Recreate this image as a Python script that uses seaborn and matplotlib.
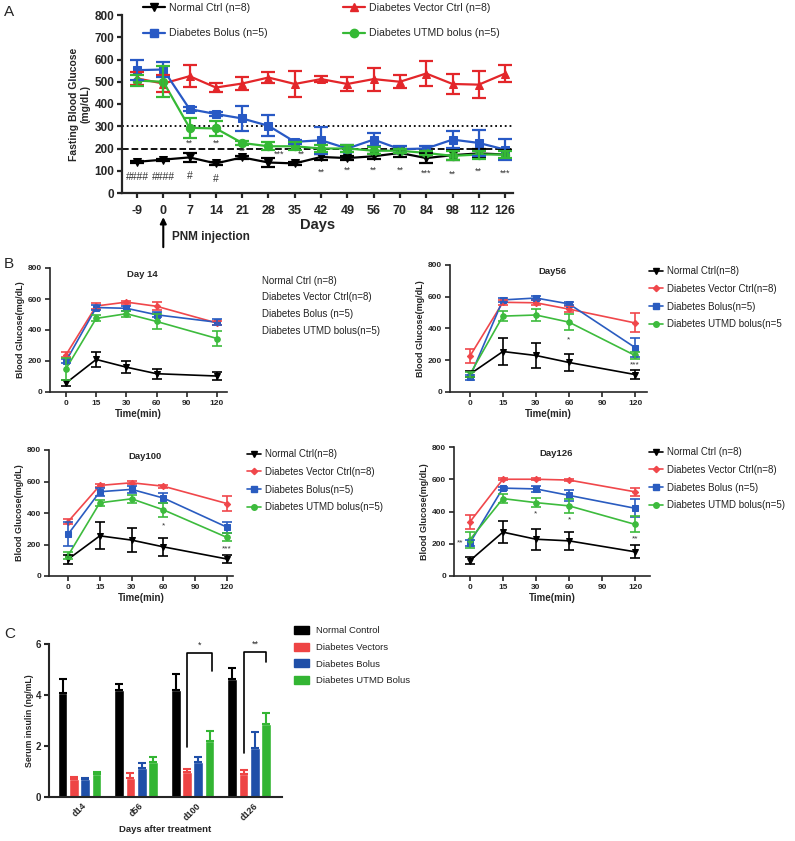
import numpy as np
import pandas as pd
import matplotlib
matplotlib.use("Agg")
import matplotlib.pyplot as plt
import seaborn as sns
from matplotlib.lines import Line2D
from matplotlib.patches import Patch

sns.set_style("ticks")
plt.rcParams['font.family'] = ['Liberation Sans', 'DejaVu Sans']

W, H = 795, 841

def rect(left, top, width, height):
    # pixel box (from top-left) -> figure fraction
    return [left / W, 1 - (top + height) / H, width / W, height / H]


# PANEL A DATA - fasting blood glucose #
days = ['-9', '0', '7', '14', '21', '28', '35', '42', '49', '56', '70', '84', '98', '112', '126']
a_normal = [140, 150, 160, 133, 160, 137, 133, 162, 157, 165, 180, 157, 170, 178, 173]
a_normal_err = [5, 5, 20, 8, 8, 20, 5, 12, 10, 10, 20, 22, 22, 20, 22]
a_vector = [515, 492, 525, 474, 492, 519, 490, 512, 490, 512, 500, 537, 490, 487, 537]
a_vector_err = [30, 40, 50, 20, 30, 25, 58, 15, 30, 52, 30, 55, 45, 60, 37]
a_bolus = [552, 555, 377, 355, 335, 302, 230, 237, 200, 240, 197, 200, 240, 225, 195]
a_bolus_err = [45, 35, 10, 10, 58, 48, 10, 60, 15, 30, 15, 10, 38, 60, 48]
a_utmd = [505, 500, 293, 290, 225, 210, 210, 200, 200, 190, 190, 180, 167, 173, 173]
a_utmd_err = [25, 70, 45, 33, 10, 18, 18, 15, 15, 15, 10, 10, 20, 18, 15]

# PANEL B DATA - glucose tolerance #
time_labels = ['0', '15', '30', '60', '90', '120']
time_sampled = ['0', '15', '30', '60', '120']

d14_normal = [58, 210, 160, 118, 103]
d14_normal_err = [20, 50, 40, 33, 25]
d14_vector = [240, 555, 580, 553, 445]
d14_vector_err = [15, 20, 10, 25, 15]
d14_bolus = [200, 545, 540, 498, 450]
d14_bolus_err = [10, 15, 15, 15, 20]
d14_utmd = [150, 475, 505, 455, 345]
d14_utmd_err = [70, 20, 20, 50, 50]

d56_normal = [112, 255, 230, 186, 110]
d56_normal_err = [20, 85, 77, 55, 28]
d56_vector = [225, 565, 562, 522, 435]
d56_vector_err = [45, 15, 15, 20, 60]
d56_bolus = [92, 580, 592, 555, 280]
d56_bolus_err = [15, 15, 10, 10, 60]
d56_utmd = [110, 478, 485, 440, 230]
d56_utmd_err = [15, 30, 35, 50, 20]

d100_normal = [106, 255, 228, 185, 108]
d100_normal_err = [30, 85, 75, 55, 25]
d100_vector = [345, 575, 592, 570, 460]
d100_vector_err = [15, 10, 10, 10, 50]
d100_bolus = [265, 535, 550, 495, 310]
d100_bolus_err = [75, 25, 20, 30, 35]
d100_utmd = [130, 465, 490, 420, 245]
d100_utmd_err = [20, 20, 25, 45, 25]

d126_normal = [95, 272, 228, 218, 150]
d126_normal_err = [22, 70, 65, 55, 40]
d126_vector = [335, 600, 600, 595, 522]
d126_vector_err = [45, 5, 5, 5, 25]
d126_bolus = [205, 545, 540, 500, 420]
d126_bolus_err = [20, 10, 20, 35, 55]
d126_utmd = [225, 480, 455, 435, 320]
d126_utmd_err = [50, 30, 30, 45, 50]

# PANEL C DATA - serum insulin #
insulin_days = ['d14', 'd56', 'd100', 'd126']
insulin_groups = ['Normal Control', 'Diabetes Vectors', 'Diabetes Bolus', 'Diabetes UTMD Bolus']
c_normal = [4.08, 4.18, 4.18, 4.62]
c_normal_err = [0.55, 0.27, 0.65, 0.42]
c_vector = [0.70, 0.75, 1.00, 0.90]
c_vector_err = [0.08, 0.20, 0.10, 0.15]
c_bolus = [0.70, 1.15, 1.38, 1.92]
c_bolus_err = [0.05, 0.20, 0.18, 0.62]
c_utmd = [0.92, 1.38, 2.20, 2.85]
c_utmd_err = [0.07, 0.18, 0.38, 0.43]


fig = plt.figure(figsize=(W / 100, H / 100), dpi=100)


def style_axes(ax, lw, size):
    sns.despine(ax=ax)
    for s in ['left', 'bottom']:
        ax.spines[s].set_linewidth(lw)
    ax.tick_params(direction='out', length=3.5, width=lw, labelsize=size, pad=2)
    for lab in ax.get_xticklabels() + ax.get_yticklabels():
        lab.set_fontweight('bold')


def draw_series(ax, x, y, err, color, marker, lw, ms, cap):
    sns.lineplot(x=x, y=y, ax=ax, color=color, marker=marker, markersize=ms,
                 markeredgecolor=color, linewidth=lw, errorbar=None)
    ax.errorbar(x, y, yerr=err, fmt='none', ecolor=color, elinewidth=lw,
                capsize=cap, capthick=lw, zorder=3)


# PANEL A #
red_a, blue_a, green_a = '#e3262a', '#2859c5', '#35b935'
axA = fig.add_axes(rect(122, 15, 391, 178))
xa = np.arange(len(days))
axA.axhline(300, ls=':', color='k', lw=1.3, zorder=1)
axA.axhline(200, ls='--', color='k', lw=1.3, zorder=1)
draw_series(axA, xa, a_normal, a_normal_err, 'black', 'v', 1.6, 6, 5)
draw_series(axA, xa, a_vector, a_vector_err, red_a, '^', 1.6, 6, 5)
draw_series(axA, xa, a_bolus, a_bolus_err, blue_a, 's', 1.6, 6, 5)
draw_series(axA, xa, a_utmd, a_utmd_err, green_a, 'o', 1.6, 6, 5)
axA.set_xlim(-0.57, 14.3)
axA.set_ylim(0, 800)
axA.set_yticks(range(0, 801, 100))
axA.set_xticks(xa)
axA.set_xticklabels(days)
style_axes(axA, 1.6, 8.5)
axA.tick_params(axis='x', labelsize=9, pad=5)
axA.set_ylabel('Fasting Blood Glucose\n(mg/dL)', fontsize=7.5, fontweight='bold', labelpad=3)
axA.set_xlabel('Days', fontsize=10.5, fontweight='bold', labelpad=1)

# significance marks on panel A
a_marks = [('**', 2, 222), ('**', 3, 222), ('**', 4, 186), ('***', 5.4, 176),
           ('**', 6.25, 176), ('**', 7, 92), ('**', 8, 102), ('**', 9, 102),
           ('**', 10, 102), ('***', 11, 88), ('**', 12, 86), ('**', 13, 96), ('***', 14, 88)]
for txt, xp, yp in a_marks:
    axA.text(xp, yp, txt, ha='center', va='center', fontsize=6.5, color='#333333')
hash_marks = [('####', 0, 70), ('####', 1, 70), ('#', 2, 78), ('#', 3, 62)]
for txt, xp, yp in hash_marks:
    axA.text(xp, yp, txt, ha='center', va='center', fontsize=7.5, color='#333333')

# PNM injection arrow
axA.annotate('', xy=(1, -0.12), xytext=(1, -0.32), xycoords=('data', 'axes fraction'),
             arrowprops=dict(arrowstyle='-|>', color='black', lw=1.5, mutation_scale=9),
             annotation_clip=False)
fig.text(172 / W, 1 - 237 / H, 'PNM injection', fontsize=8.5, fontweight='bold', va='center')

# legend for panel A (two columns)
hA = [Line2D([], [], color=c, marker=m, markersize=6, lw=1.6)
      for c, m in [('black', 'v'), (blue_a, 's'), (red_a, '^'), (green_a, 'o')]]
fig.legend(hA[:2], ['Normal Ctrl (n=8)', 'Diabetes Bolus (n=5)'], loc='upper left',
           bbox_to_anchor=(143 / W, 1 - 3 / H), frameon=False, fontsize=7.6,
           borderpad=0, borderaxespad=0, handlelength=2.1, handletextpad=0.4, labelspacing=1.45)
fig.legend(hA[2:], ['Diabetes Vector Ctrl (n=8)', 'Diabetes UTMD bolus (n=5)'], loc='upper left',
           bbox_to_anchor=(343 / W, 1 - 3 / H), frameon=False, fontsize=7.6,
           borderpad=0, borderaxespad=0, handlelength=2.1, handletextpad=0.4, labelspacing=1.45)


# PANEL B #
red_b, blue_b, green_b = '#f0474b', '#2a5cc0', '#3dbb3d'
xb = [0, 1, 2, 3, 5]

panels_b = [
    dict(title='Day 14', box=(50, 268, 177, 124), xlim=(-0.53, 5.33),
         series=[(d14_normal, d14_normal_err), (d14_vector, d14_vector_err),
                 (d14_bolus, d14_bolus_err), (d14_utmd, d14_utmd_err)],
         labels=['Normal Ctrl (n=8)', 'Diabetes Vector Ctrl(n=8)', 'Diabetes Bolus (n=5)',
                 'Diabetes UTMD bolus(n=5)'],
         legend=None, marks=[]),
    dict(title='Day56', box=(450, 265, 197, 127), xlim=(-0.6, 5.36),
         series=[(d56_normal, d56_normal_err), (d56_vector, d56_vector_err),
                 (d56_bolus, d56_bolus_err), (d56_utmd, d56_utmd_err)],
         labels=['Normal Ctrl(n=8)', 'Diabetes Vector Ctrl(n=8)', 'Diabetes Bolus(n=5)',
                 'Diabetes UTMD bolus(n=5'],
         legend=(649, 266), marks=[('*', 3, 330), ('***', 5, 172)]),
    dict(title='Day100', box=(49, 450, 184, 126), xlim=(-0.6, 5.19),
         series=[(d100_normal, d100_normal_err), (d100_vector, d100_vector_err),
                 (d100_bolus, d100_bolus_err), (d100_utmd, d100_utmd_err)],
         labels=['Normal Ctrl(n=8)', 'Diabetes Vector Ctrl(n=8)', 'Diabetes Bolus(n=5)',
                 'Diabetes UTMD bolus(n=5)'],
         legend=(247, 449), marks=[('*', 3, 318), ('***', 5, 172)]),
    dict(title='Day126', box=(454, 447, 196, 129), xlim=(-0.48, 5.45),
         series=[(d126_normal, d126_normal_err), (d126_vector, d126_vector_err),
                 (d126_bolus, d126_bolus_err), (d126_utmd, d126_utmd_err)],
         labels=['Normal Ctrl (n=8)', 'Diabetes Vector Ctrl(n=8)', 'Diabetes Bolus (n=5)',
                 'Diabetes UTMD bolus(n=5)'],
         legend=(649, 447), marks=[('**', -0.3, 203), ('*', 2, 385), ('*', 3, 345), ('**', 5, 232)]),
]
styles_b = [('black', 'v', 4), (red_b, 'D', 3.2), (blue_b, 's', 4), (green_b, 'o', 4)]

for p in panels_b:
    ax = fig.add_axes(rect(*p['box']))
    for (vals, errs), (c, m, ms) in zip(p['series'], styles_b):
        draw_series(ax, xb, vals, errs, c, m, 1.2, ms, 3.5)
    ax.set_xlim(*p['xlim'])
    ax.set_ylim(0, 800)
    ax.set_yticks([0, 200, 400, 600, 800])
    ax.set_xticks(range(len(time_labels)))
    ax.set_xticklabels(time_labels)
    style_axes(ax, 1.2, 6)
    ax.set_ylabel('Blood Glucose(mg/dL)', fontsize=6.5, fontweight='bold', labelpad=2)
    ax.set_xlabel('Time(min)', fontsize=7, fontweight='bold', labelpad=2)
    ax.text(0.52, 0.95, p['title'], transform=ax.transAxes, ha='center', va='center',
            fontsize=6.8, fontweight='bold')
    for txt, xp, yp in p['marks']:
        ax.text(xp, yp, txt, ha='center', va='center', fontsize=6, color='#333333')
    if p['legend'] is None:
        for i, lab in enumerate(p['labels']):
            fig.text(262 / W, 1 - (281 + 16.5 * i) / H, lab, fontsize=7, va='center',
                     color='#222222')
    else:
        hb = [Line2D([], [], color=c, marker=m, markersize=ms, lw=1.2) for c, m, ms in styles_b]
        fig.legend(hb, p['labels'], loc='upper left',
                   bbox_to_anchor=(p['legend'][0] / W, 1 - p['legend'][1] / H),
                   frameon=False, fontsize=7, borderpad=0, borderaxespad=0,
                   handlelength=1.4, handletextpad=0.5, labelspacing=0.8, labelcolor='#222222')


# PANEL C #
colors_c = ['#000000', '#ee4444', '#1f4fa8', '#33b533']
df_c = pd.DataFrame({
    'day': insulin_days * 4,
    'group': np.repeat(insulin_groups, len(insulin_days)),
    'insulin': c_normal + c_vector + c_bolus + c_utmd,
})
errs_c = [c_normal_err, c_vector_err, c_bolus_err, c_utmd_err]

axC = fig.add_axes(rect(49, 644, 233, 153))
sns.barplot(data=df_c, x='day', y='insulin', hue='group', order=insulin_days,
            hue_order=insulin_groups, palette=colors_c, saturation=1, gap=0.14,
            errorbar=None, legend=False, ax=axC)
for cont, err, c in zip(axC.containers, errs_c, colors_c):
    xc = [b.get_x() + b.get_width() / 2 for b in cont]
    hc = [b.get_height() for b in cont]
    axC.errorbar(xc, hc, yerr=[np.zeros(len(err)), err], fmt='none', ecolor=c,
                 elinewidth=1.5, capsize=3, capthick=1.5)
axC.set_xlim(-0.54, 3.58)
axC.set_ylim(0, 6)
axC.set_yticks([0, 2, 4, 6])
style_axes(axC, 1.5, 7)
axC.tick_params(axis='x', length=0, labelsize=6.5, pad=3)
plt.setp(axC.get_xticklabels(), rotation=45, ha='center', rotation_mode='default')
axC.set_ylabel('Serum insulin (ng/mL)', fontsize=6.3, fontweight='bold', labelpad=1)
axC.set_xlabel('Days after treatment', fontsize=6.8, fontweight='bold', labelpad=2)

# significance brackets (Vectors vs UTMD)
red_bars, green_bars = axC.containers[1], axC.containers[3]
for i, lo, top, rlo, off, star in [(2, 1.96, 5.65, 4.95, 0.05, '*'), (3, 1.72, 5.7, 5.3, 0.0, '**')]:
    xl = red_bars[i].get_x() + red_bars[i].get_width() / 2
    xr = green_bars[i].get_x() + green_bars[i].get_width() / 2 + off
    axC.plot([xl, xl, xr, xr], [lo, top, top, rlo], color='black', lw=1.2, clip_on=False)
    axC.text((xl + xr) / 2, top + 0.3, star, ha='center', va='center', fontsize=6.5)

hC = [Patch(facecolor=c, edgecolor=c) for c in colors_c]
fig.legend(hC, insulin_groups, loc='upper left', bbox_to_anchor=(294 / W, 1 - 626 / H),
           frameon=False, fontsize=6.8, borderpad=0, borderaxespad=0, handlelength=1.6,
           handleheight=0.9, handletextpad=0.7, labelspacing=0.8, labelcolor='#222222')

# panel letters
for letter, (px, py) in zip('ABC', [(4, 12), (4, 264), (4, 634)]):
    fig.text(px / W, 1 - py / H, letter, fontsize=11, va='center')

fig.savefig('out.png', dpi=100)
